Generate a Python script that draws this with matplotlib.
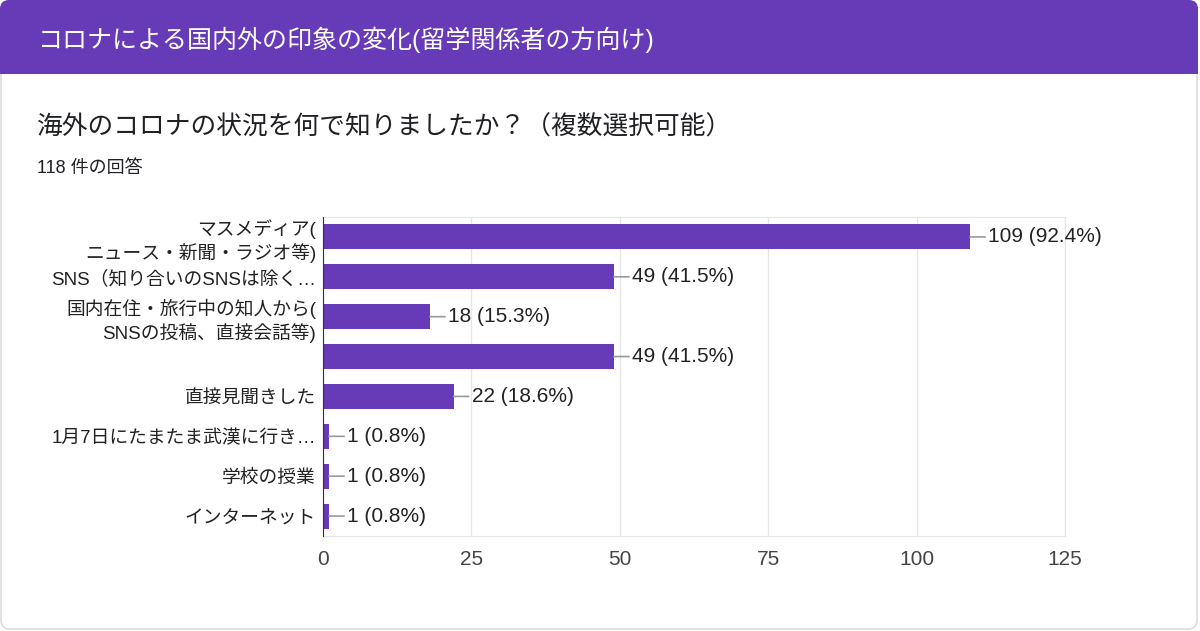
import matplotlib
matplotlib.use("Agg")
import matplotlib.pyplot as plt
from matplotlib.patches import FancyBboxPatch, Rectangle

# 欧文はArial相当、和文はNoto CJKで表示
plt.rcParams['font.family'] = ['Liberation Sans', 'Noto Sans CJK JP', 'DejaVu Sans']

# データ
header_title = "コロナによる国内外の印象の変化(留学関係者の方向け)"
question = "海外のコロナの状況を何で知りましたか？（複数選択可能）"
n_answers = "118 件の回答"

categories = [
    "マスメディア(\nニュース・新聞・ラジオ等)",
    "SNS（知り合いのSNSは除く…",
    "国内在住・旅行中の知人から(\nSNSの投稿、直接会話等)",
    "",
    "直接見聞きした",
    "1月7日にたまたま武漢に行き…",
    "学校の授業",
    "インターネット",
]
counts = [109, 49, 18, 49, 22, 1, 1, 1]
percents = [92.4, 41.5, 15.3, 41.5, 18.6, 0.8, 0.8, 0.8]
xticks = [0, 25, 50, 75, 100, 125]

PURPLE = "#673AB7"
W, H = 1200, 631

fig = plt.figure(figsize=(W / 100, H / 100), dpi=100)
fig.patch.set_facecolor("white")


# ピクセル(左上原点)→インチ座標
def px(x, y):
    return x / 100, (H - y) / 100


# カード
x0, y0 = px(1, 629)
card = FancyBboxPatch((x0, y0), 1196 / 100, 628 / 100,
                      boxstyle="round,pad=0,rounding_size=0.09",
                      transform=fig.dpi_scale_trans, facecolor="white",
                      edgecolor="#dadce0", linewidth=1.2, zorder=-3)
fig.patches.append(card)

# ヘッダー
hx, hy = px(0, 74)
header = FancyBboxPatch((hx, hy), 1198 / 100, 74 / 100,
                        boxstyle="round,pad=0,rounding_size=0.09",
                        transform=fig.dpi_scale_trans, facecolor=PURPLE,
                        edgecolor="none", zorder=-2)
fig.patches.append(header)
fig.patches.append(Rectangle((hx, hy), 1198 / 100, 0.3, transform=fig.dpi_scale_trans,
                             facecolor=PURPLE, edgecolor="none", zorder=-2))

fig.text(37 / W, 1 - 40 / H, header_title, color="white", fontsize=18,
         va="center", ha="left")
fig.text(37 / W, 1 - 127 / H, question, color="#202124", fontsize=18.5,
         va="center", ha="left")
fig.text(37 / W, 1 - 169 / H, n_answers, color="#202124", fontsize=13,
         va="center", ha="left")

# グラフ
ax = fig.add_axes([323 / W, 1 - 536 / H, (1065 - 323) / W, (536 - 217) / H])
ax.patch.set_alpha(0)
y = list(range(len(categories)))
ax.barh(y, counts, height=0.63, color=PURPLE, zorder=3)
ax.set_xlim(0, 125)
ax.set_ylim(len(categories) - 0.5, -0.5)
ax.set_xticks(xticks)
ax.set_xticklabels([str(t) for t in xticks], fontsize=15, color="#444444")
ax.set_yticks(y)
ax.set_yticklabels(categories, fontsize=13.5, color="#222222", linespacing=1.25)
ax.tick_params(axis="x", length=0, pad=10)
ax.tick_params(axis="y", length=0, pad=5)
ax.grid(axis="x", color="#e6e6e6", linewidth=1, zorder=0)

for s in ["top", "bottom", "right"]:
    ax.spines[s].set_color("#e6e6e6")
ax.spines["left"].set_color("#333333")
ax.spines["left"].set_zorder(4)

for i, (c, p) in enumerate(zip(counts, percents)):
    ax.annotate(f"{c} ({p}%)", xy=(c, i), xytext=(18, 0), textcoords="offset pixels",
                va="center", ha="left", fontsize=15, color="#222222",
                arrowprops=dict(arrowstyle="-", color="#999999", lw=1.2,
                                shrinkA=0, shrinkB=0))

fig.savefig("out.png", dpi=100)
